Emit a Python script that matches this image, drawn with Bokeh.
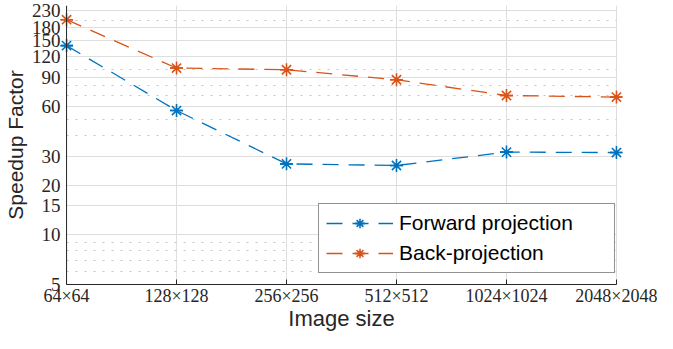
from bokeh.plotting import figure
from bokeh.models import FixedTicker, Legend, LegendItem, NumeralTickFormatter, Span
from bokeh.embed import file_html
from bokeh.resources import INLINE

sizes = ["64×64", "128×128", "256×256", "512×512", "1024×1024", "2048×2048"]
xpos = [0, 1, 2, 3, 4, 5]
forward = [140, 56.6, 26.9, 26.3, 31.7, 31.5]
back = [201, 102.4, 100, 87, 69.8, 68.3]
yticks = [5, 10, 15, 20, 30, 60, 90, 120, 150, 180, 230]
yminor = [6, 7, 8, 9, 40, 50, 70, 80, 100, 200]

BLUE = "#0072BD"
ORANGE = "#D95319"
AX = "#262626"
PADX = 0.055

p = figure(width=657, height=333, y_axis_type="log",
           x_range=(xpos[0] - PADX, xpos[-1] + PADX), y_range=(5, 245),
           output_backend="svg", toolbar_location=None,
           min_border_left=54, min_border_right=35, min_border_top=5, min_border_bottom=0)
p.outline_line_color = None
p.background_fill_color = "white"

xt = FixedTicker(ticks=xpos)
yt = FixedTicker(ticks=yticks, minor_ticks=yminor)
p.xaxis.ticker = xt
p.xgrid.ticker = xt
p.yaxis.ticker = yt
p.ygrid.ticker = yt
p.xaxis.major_label_overrides = {i: s for i, s in zip(xpos, sizes)}
p.yaxis.formatter = NumeralTickFormatter(format="0")
p.xaxis.bounds = (xpos[0], xpos[-1])
p.ygrid.cross_bounds = (xpos[0], xpos[-1])

for ax in (p.xaxis, p.yaxis):
    ax.axis_line_color = AX
    ax.axis_line_width = 1
    ax.major_tick_line_color = AX
    ax.minor_tick_line_color = AX
    ax.major_tick_out = 0
    ax.minor_tick_out = 0
    ax.major_label_text_font = "Liberation Serif"
    ax.major_label_text_color = AX
    ax.axis_label_text_font = "Liberation Sans"
    ax.axis_label_text_font_style = "normal"
    ax.axis_label_text_color = AX

p.xaxis.major_tick_in = 5
p.xaxis.minor_tick_in = 0
p.yaxis.major_tick_in = 0
p.yaxis.minor_tick_in = 0
p.yaxis.axis_line_color = None
p.add_layout(Span(location=xpos[0], dimension="height", line_color=AX, line_width=1))

p.xaxis.major_label_text_font_size = "18px"
p.yaxis.major_label_text_font_size = "19px"
p.xaxis.major_label_standoff = 1
p.yaxis.major_label_standoff = 0
p.xaxis.axis_label_standoff = -3
p.yaxis.axis_label_standoff = 2
p.xaxis.axis_label = "Image size"
p.yaxis.axis_label = "Speedup Factor"
p.xaxis.axis_label_text_font_size = "22px"
p.yaxis.axis_label_text_font_size = "21px"

p.xgrid.grid_line_color = "#dedede"
p.ygrid.grid_line_color = "#dedede"
p.ygrid.minor_grid_line_color = "#c4c4c4"
p.ygrid.minor_grid_line_dash = "2 7"
p.ygrid.minor_grid_line_width = 1

r1 = p.line(xpos, forward, line_color=BLUE, line_width=1.3, line_dash="16 10")
m1a = p.scatter(xpos, forward, marker="asterisk", size=13, line_color=BLUE, line_width=1.6)
m1b = p.scatter(xpos, forward, marker="dash", size=13, line_color=BLUE, line_width=1.6)
r2 = p.line(xpos, back, line_color=ORANGE, line_width=1.3, line_dash="16 10")
m2a = p.scatter(xpos, back, marker="asterisk", size=13, line_color=ORANGE, line_width=1.6)
m2b = p.scatter(xpos, back, marker="dash", size=13, line_color=ORANGE, line_width=1.6)

legend = Legend(items=[LegendItem(label="Forward projection", renderers=[r1, m1a, m1b]),
                       LegendItem(label="Back-projection", renderers=[r2, m2a, m2b])],
                location=(258, 11), glyph_width=67, glyph_height=24, label_height=24,
                label_width=208, label_standoff=6, padding=7, spacing=6, margin=0,
                label_text_font="Liberation Sans", label_text_font_size="21px",
                label_text_color="black",
                border_line_color=AX, border_line_width=1, background_fill_alpha=1)
p.add_layout(legend)

open("out.html", "w").write(file_html(p, INLINE))
